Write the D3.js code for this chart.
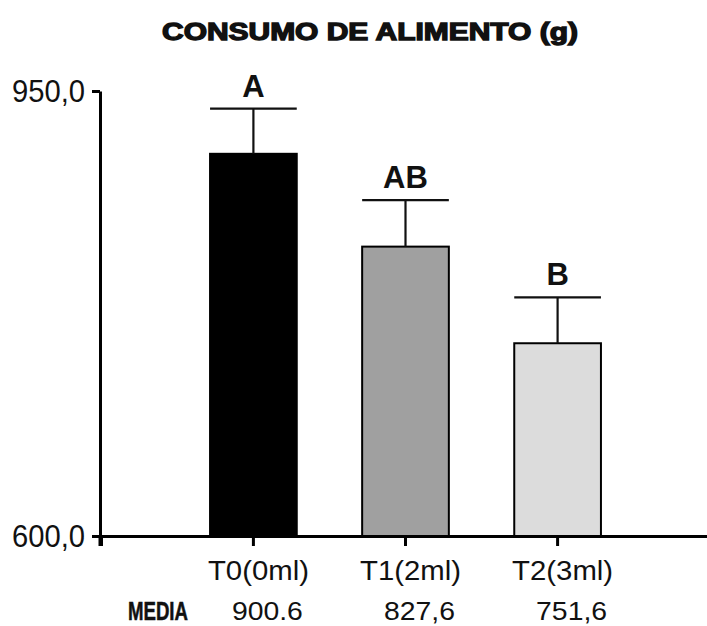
<!DOCTYPE html>
<html>
<head>
<meta charset="utf-8">
<script src="https://cdn.jsdelivr.net/npm/d3@7"></script>
<style>
  html, body { margin: 0; padding: 0; background: #fff; }
  svg { display: block; }
  text { font-family: "Liberation Sans", Arial, sans-serif; fill: #111; }
</style>
</head>
<body>
<svg id="chart" width="707" height="626"></svg>
<script>
// Food consumption per treatment (mean ± error), with significance letters
const categories = ["T0(0ml)", "T1(2ml)", "T2(3ml)"];
const means = [900.6, 827.6, 751.6];
const errors = [35.5, 36.6, 36.1];
const letters = ["A", "AB", "B"];
const meanLabels = ["900.6", "827,6", "751,6"];
const fills = ["#000000", "#a0a0a0", "#dcdcdc"];
const yTicks = [600, 950];
const title = "CONSUMO DE ALIMENTO (g)";
const rowLabel = "MEDIA";

const svg = d3.select("#chart");

const y = d3.scaleLinear().domain([600, 950]).range([536, 91]);
const x = d3.scaleBand()
  .domain(categories)
  .range([101, 710])
  .paddingInner(0.43)
  .paddingOuter(0.717);

const commaLocale = d3.formatLocale({ decimal: ",", thousands: ".", grouping: [3], currency: ["", ""] });
const fmt = commaLocale.format(".1f");

// Title (heavy, wide lettering)
svg.append("text")
  .attr("x", 370).attr("y", 40)
  .attr("text-anchor", "middle")
  .attr("textLength", 416).attr("lengthAdjust", "spacingAndGlyphs")
  .style("font-size", "23px").style("font-weight", "900")
  .style("stroke", "#111").style("stroke-width", "1.3px")
  .text(title);

// Bars
const bars = svg.append("g");
bars.selectAll("rect")
  .data(means)
  .join("rect")
  .attr("x", (d, i) => x(categories[i]))
  .attr("y", d => y(d))
  .attr("width", x.bandwidth())
  .attr("height", d => y(600) - y(d))
  .attr("fill", (d, i) => fills[i])
  .attr("stroke", "#000")
  .attr("stroke-width", 2);

// Error bars (upper whisker with cap across the bar)
const eb = svg.append("g").attr("stroke", "#111").attr("stroke-width", 2.2);
means.forEach((m, i) => {
  const cx = x(categories[i]) + x.bandwidth() / 2;
  eb.append("line")
    .attr("x1", cx).attr("x2", cx)
    .attr("y1", y(m)).attr("y2", y(m + errors[i]));
  eb.append("line")
    .attr("x1", x(categories[i])).attr("x2", x(categories[i]) + x.bandwidth())
    .attr("y1", y(m + errors[i])).attr("y2", y(m + errors[i]));
});

// Significance letters
svg.append("g").selectAll("text")
  .data(letters)
  .join("text")
  .attr("x", (d, i) => x(categories[i]) + x.bandwidth() / 2)
  .attr("y", (d, i) => y(means[i] + errors[i]) - 12)
  .attr("text-anchor", "middle")
  .style("font-size", "31px").style("font-weight", "bold")
  .text(d => d);

// Y axis
const yAxis = svg.append("g")
  .attr("transform", "translate(100,0)")
  .call(d3.axisLeft(y).tickValues(yTicks).tickSize(8).tickSizeOuter(0).tickPadding(7).tickFormat(fmt));
yAxis.select(".domain").attr("stroke", "#000").attr("stroke-width", 3);
yAxis.selectAll(".tick line").attr("stroke", "#000").attr("stroke-width", 3);
yAxis.selectAll(".tick text")
  .style("font-size", "31px").attr("fill", "#111").attr("dy", "0.35em")
  .attr("textLength", 73).attr("lengthAdjust", "spacingAndGlyphs");
// axis line continues a little below the baseline
yAxis.append("line")
  .attr("x1", 0).attr("x2", 0)
  .attr("y1", y(600)).attr("y2", y(600) + 10)
  .attr("stroke", "#000").attr("stroke-width", 3);

// X axis
const xAxis = svg.append("g")
  .attr("transform", `translate(0,${y(600)})`)
  .call(d3.axisBottom(x).tickSize(10).tickSizeOuter(10).tickPadding(14));
xAxis.select(".domain").attr("stroke", "#000").attr("stroke-width", 3);
xAxis.selectAll(".tick line").attr("stroke", "#000").attr("stroke-width", 3);
xAxis.selectAll(".tick text")
  .style("font-size", "28px").attr("fill", "#111").attr("dx", 5)
  .attr("textLength", 101).attr("lengthAdjust", "spacingAndGlyphs");

// Mean row
svg.append("text")
  .attr("x", 128).attr("y", 620)
  .attr("textLength", 60).attr("lengthAdjust", "spacingAndGlyphs")
  .style("font-size", "25px").style("font-weight", "bold")
  .style("stroke", "#111").style("stroke-width", "0.5px")
  .text(rowLabel);
svg.append("g").selectAll("text")
  .data(meanLabels)
  .join("text")
  .attr("x", (d, i) => x(categories[i]) + x.bandwidth() / 2 + 14)
  .attr("y", 620)
  .attr("text-anchor", "middle")
  .attr("textLength", 71).attr("lengthAdjust", "spacingAndGlyphs")
  .style("font-size", "26px")
  .text(d => d);
</script>
</body>
</html>
